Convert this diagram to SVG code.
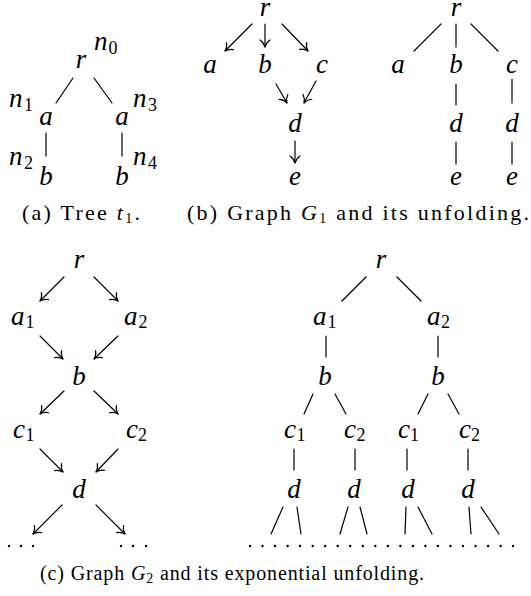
<svg xmlns="http://www.w3.org/2000/svg" width="531" height="596" viewBox="0 0 531 596">
<style>
.m{font-family:"Liberation Serif","Times New Roman",serif;font-style:italic;font-size:27px;fill:#000}
.s{font-style:normal;font-size:18px}
.c{font-family:"Liberation Serif","Times New Roman",serif;font-size:20px;fill:#000}
.ct{font-size:22px}
.ci{font-style:italic}
.cs{font-size:14px}
line{stroke:#000;stroke-width:1.2;stroke-linecap:round}
.ar{marker-end:url(#to)}
</style>
<defs>
<marker id="to" markerUnits="userSpaceOnUse" markerWidth="16" markerHeight="16" viewBox="-9 -8 12 16" refX="0" refY="0" orient="auto" overflow="visible">
<path d="M-7,-5 C-5,-2 -2,-0.5 0,0 C-2,0.5 -5,2 -7,5" fill="none" stroke="#000" stroke-width="1.2" stroke-linecap="round"/>
</marker>
</defs>
<rect width="531" height="596" fill="#fff"/>

<g id="connectors">
<!-- tree a -->
<line x1="73" y1="78" x2="56" y2="103"/>
<line x1="94" y1="78" x2="112" y2="103"/>
<line x1="46" y1="133" x2="46" y2="156"/>
<line x1="122" y1="133" x2="122" y2="156"/>
<!-- graph b -->
<line class="ar" x1="252" y1="24" x2="225" y2="51"/>
<line class="ar" x1="265" y1="24" x2="265" y2="47"/>
<line class="ar" x1="282" y1="24" x2="308" y2="51"/>
<line class="ar" x1="276" y1="84" x2="287" y2="103"/>
<line class="ar" x1="316" y1="81" x2="304" y2="103"/>
<line class="ar" x1="295" y1="141" x2="295" y2="163"/>
<!-- unfolding b -->
<line x1="441" y1="24" x2="414" y2="51"/>
<line x1="456" y1="24" x2="456" y2="47"/>
<line x1="471" y1="24" x2="498" y2="51"/>
<line x1="456" y1="84" x2="456" y2="105"/>
<line x1="512" y1="79" x2="512" y2="103"/>
<line x1="456" y1="142" x2="456" y2="164"/>
<line x1="512" y1="142" x2="512" y2="164"/>
<!-- graph G2 -->
<line class="ar" x1="64" y1="277" x2="40" y2="301"/>
<line class="ar" x1="94" y1="277" x2="118" y2="301"/>
<line class="ar" x1="40" y1="336" x2="63" y2="359"/>
<line class="ar" x1="118" y1="336" x2="94" y2="359"/>
<line class="ar" x1="64" y1="391" x2="40" y2="414"/>
<line class="ar" x1="94" y1="391" x2="118" y2="414"/>
<line class="ar" x1="40" y1="449" x2="63" y2="472"/>
<line class="ar" x1="118" y1="449" x2="96" y2="472"/>
<line class="ar" x1="62" y1="505" x2="33" y2="534"/>
<line class="ar" x1="96" y1="505" x2="125" y2="534"/>
<!-- unfolding G2 -->
<line x1="366" y1="277" x2="342" y2="301"/>
<line x1="397" y1="277" x2="421" y2="301"/>
<line x1="326" y1="336" x2="326" y2="357"/>
<line x1="438" y1="336" x2="438" y2="357"/>
<line x1="313" y1="394" x2="304" y2="414"/>
<line x1="335" y1="394" x2="346" y2="414"/>
<line x1="428" y1="394" x2="418" y2="414"/>
<line x1="448" y1="394" x2="459" y2="414"/>
<line x1="294" y1="449" x2="294" y2="470"/>
<line x1="355" y1="449" x2="355" y2="470"/>
<line x1="407" y1="449" x2="407" y2="470"/>
<line x1="468" y1="449" x2="468" y2="470"/>
<line x1="283" y1="507" x2="271" y2="534"/>
<line x1="297" y1="507" x2="301" y2="534"/>
<line x1="348" y1="507" x2="340" y2="534"/>
<line x1="360" y1="507" x2="367" y2="534"/>
<line x1="406" y1="507" x2="405" y2="534"/>
<line x1="418" y1="507" x2="432" y2="534"/>
<line x1="469" y1="507" x2="471" y2="534"/>
<line x1="481" y1="507" x2="499" y2="534"/>
</g>

<!-- tree t1 -->
<g id="t1-r"><text class="m" x="81" y="68" text-anchor="middle">r</text></g>
<g id="t1-n0"><text class="m" x="94" y="50">n<tspan class="s" x="108.5" y="54">0</tspan></text></g>
<g id="t1-n1"><text class="m" x="9" y="107">n<tspan class="s" x="24" y="111">1</tspan></text></g>
<g id="t1-n3"><text class="m" x="133" y="107">n<tspan class="s" x="148" y="111">3</tspan></text></g>
<g id="t1-a1"><text class="m" x="46" y="125" text-anchor="middle">a</text></g>
<g id="t1-a2"><text class="m" x="122" y="125" text-anchor="middle">a</text></g>
<g id="t1-n2"><text class="m" x="9" y="165">n<tspan class="s" x="24" y="169">2</tspan></text></g>
<g id="t1-n4"><text class="m" x="133" y="165">n<tspan class="s" x="148" y="169">4</tspan></text></g>
<g id="t1-b1"><text class="m" x="46" y="185" text-anchor="middle">b</text></g>
<g id="t1-b2"><text class="m" x="122" y="185" text-anchor="middle">b</text></g>

<!-- graph G1 -->
<g id="g1-r"><text class="m" x="265" y="16" text-anchor="middle">r</text></g>
<g id="g1-a"><text class="m" x="210" y="73" text-anchor="middle">a</text></g>
<g id="g1-b"><text class="m" x="265" y="73" text-anchor="middle">b</text></g>
<g id="g1-c"><text class="m" x="322" y="73" text-anchor="middle">c</text></g>
<g id="g1-d"><text class="m" x="295" y="132" text-anchor="middle">d</text></g>
<g id="g1-e"><text class="m" x="295" y="185" text-anchor="middle">e</text></g>

<!-- unfolding G1 -->
<g id="u1-r"><text class="m" x="456" y="16" text-anchor="middle">r</text></g>
<g id="u1-a"><text class="m" x="398" y="73" text-anchor="middle">a</text></g>
<g id="u1-b"><text class="m" x="456" y="73" text-anchor="middle">b</text></g>
<g id="u1-c"><text class="m" x="512" y="73" text-anchor="middle">c</text></g>
<g id="u1-d1"><text class="m" x="456" y="132" text-anchor="middle">d</text></g>
<g id="u1-d2"><text class="m" x="512" y="132" text-anchor="middle">d</text></g>
<g id="u1-e1"><text class="m" x="456" y="185" text-anchor="middle">e</text></g>
<g id="u1-e2"><text class="m" x="512" y="185" text-anchor="middle">e</text></g>

<!-- graph G2 -->
<g id="g2-r"><text class="m" x="79" y="268" text-anchor="middle">r</text></g>
<g id="g2-a1"><text class="m" x="11" y="325">a<tspan class="s" x="25.5" y="328">1</tspan></text></g>
<g id="g2-a2"><text class="m" x="124" y="325">a<tspan class="s" x="138.5" y="328">2</tspan></text></g>
<g id="g2-b"><text class="m" x="79" y="385" text-anchor="middle">b</text></g>
<g id="g2-c1"><text class="m" x="13" y="438">c<tspan class="s" x="25.5" y="441">1</tspan></text></g>
<g id="g2-c2"><text class="m" x="126" y="438">c<tspan class="s" x="138" y="441">2</tspan></text></g>
<g id="g2-d"><text class="m" x="79" y="498" text-anchor="middle">d</text></g>
<g id="g2-dots">
<circle cx="9" cy="546" r="1.2"/><circle cx="21" cy="546" r="1.2"/><circle cx="33" cy="546" r="1.2"/>
<circle cx="121" cy="546" r="1.2"/><circle cx="133" cy="546" r="1.2"/><circle cx="146" cy="546" r="1.2"/>
</g>

<!-- unfolding G2 -->
<g id="u2-r"><text class="m" x="381" y="268" text-anchor="middle">r</text></g>
<g id="u2-a1"><text class="m" x="313" y="325">a<tspan class="s" x="327.5" y="328">1</tspan></text></g>
<g id="u2-a2"><text class="m" x="427" y="325">a<tspan class="s" x="441" y="328">2</tspan></text></g>
<g id="u2-b1"><text class="m" x="325" y="385" text-anchor="middle">b</text></g>
<g id="u2-b2"><text class="m" x="438" y="385" text-anchor="middle">b</text></g>
<g id="u2-c1"><text class="m" x="284" y="438">c<tspan class="s" x="296.5" y="441">1</tspan></text></g>
<g id="u2-c2"><text class="m" x="344" y="438">c<tspan class="s" x="356.5" y="441">2</tspan></text></g>
<g id="u2-c3"><text class="m" x="398" y="438">c<tspan class="s" x="410" y="441">1</tspan></text></g>
<g id="u2-c4"><text class="m" x="459" y="438">c<tspan class="s" x="471" y="441">2</tspan></text></g>
<g id="u2-d1"><text class="m" x="294" y="498" text-anchor="middle">d</text></g>
<g id="u2-d2"><text class="m" x="354" y="498" text-anchor="middle">d</text></g>
<g id="u2-d3"><text class="m" x="408" y="498" text-anchor="middle">d</text></g>
<g id="u2-d4"><text class="m" x="468" y="498" text-anchor="middle">d</text></g>
<g id="u2-dots">
<circle cx="250" cy="546" r="1.2"/><circle cx="262.5" cy="546" r="1.2"/><circle cx="275" cy="546" r="1.2"/><circle cx="287.6" cy="546" r="1.2"/>
<circle cx="300.1" cy="546" r="1.2"/><circle cx="312.7" cy="546" r="1.2"/><circle cx="325.2" cy="546" r="1.2"/><circle cx="337.7" cy="546" r="1.2"/>
<circle cx="350.2" cy="546" r="1.2"/><circle cx="362.8" cy="546" r="1.2"/><circle cx="375.3" cy="546" r="1.2"/><circle cx="387.8" cy="546" r="1.2"/>
<circle cx="400.4" cy="546" r="1.2"/><circle cx="412.9" cy="546" r="1.2"/><circle cx="425.4" cy="546" r="1.2"/><circle cx="437.9" cy="546" r="1.2"/>
<circle cx="450.5" cy="546" r="1.2"/><circle cx="463" cy="546" r="1.2"/><circle cx="475.5" cy="546" r="1.2"/><circle cx="488.1" cy="546" r="1.2"/>
<circle cx="500.6" cy="546" r="1.2"/><circle cx="513" cy="546" r="1.2"/>
</g>

<!-- captions -->
<g id="cap-a"><text class="c ct" x="22" y="220" textLength="118">(a) Tree <tspan class="ci">t</tspan><tspan class="cs" dy="3">1</tspan><tspan dy="-3">.</tspan></text></g>
<g id="cap-b"><text class="c ct" x="187" y="220" textLength="342">(b) Graph <tspan class="ci">G</tspan><tspan class="cs" dy="3">1</tspan><tspan dy="-3"> and its unfolding.</tspan></text></g>
<g id="cap-c"><text class="c" x="40" y="580" textLength="384">(c) Graph <tspan class="ci">G</tspan><tspan class="cs" dy="3">2</tspan><tspan dy="-3"> and its exponential unfolding.</tspan></text></g>
</svg>
